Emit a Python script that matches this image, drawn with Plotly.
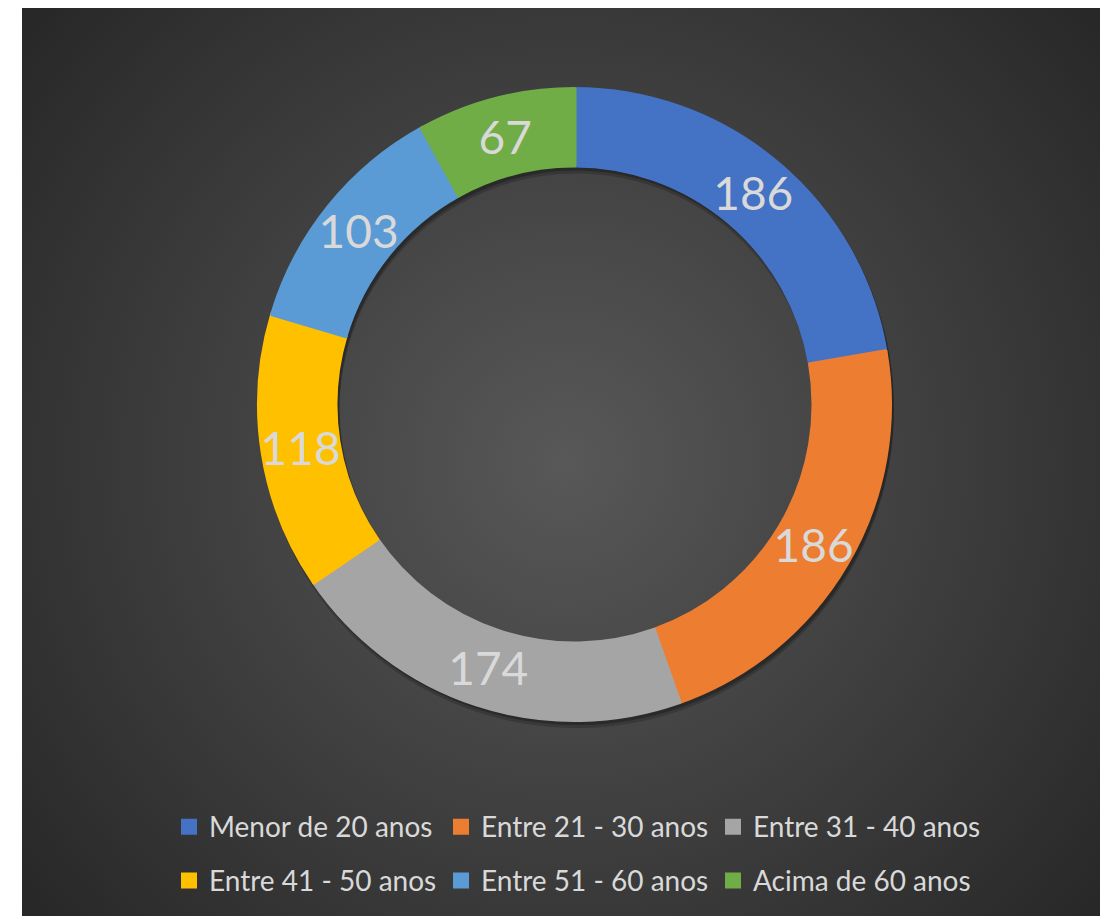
import base64
import plotly.graph_objects as go

# ---- data ----
categories = ["Menor de 20 anos", "Entre 21 - 30 anos", "Entre 31 - 40 anos",
              "Entre 41 - 50 anos", "Entre 51 - 60 anos", "Acima de 60 anos"]
values = [186, 186, 174, 118, 103, 67]
colors = ["#4472C4", "#ED7D31", "#A5A5A5", "#FFC000", "#5B9BD5", "#70AD47"]

# ---- layout constants (pixels, figure coordinates) ----
W, H = 1108, 908
ML, MR = 114, 94
GW = W - ML - MR
CX, CY, R = 566.5, 396.5, 317.5   # pie centre / outer radius (from top-left)
R_IN = 237.0                      # inner radius of the band
HOLE = R_IN / R
LW = 4                            # slice outline (same colour as fill) -> bigger legend swatches
R_DRAW = R - LW / 2
HOLE_DRAW = (R_IN + LW / 2) / R_DRAW
R_MID = (R + R_IN) / 2            # radius where the value labels sit
R_TXT = 337.0                     # helper ring used only to place the labels
HOLE_TXT = (2 * R_MID - R_TXT) / R_TXT

LEG_FONT = 28
LEG_ROW = 39


def pie_domain(dx=0.0, dy=0.0, r=R):
    x0 = (CX + dx - r - ML) / GW
    x1 = (CX + dx + r - ML) / GW
    yb = H - (CY + dy)
    return dict(x=[x0, x1], y=[(yb - r) / H, (yb + r) / H])


# radial gradient background as an SVG image
BG_X0 = 14
BG_W, BG_H = W - BG_X0, H
GCX, GCY = (1100 - BG_X0) / 2, H / 2
svg = f'''<svg xmlns="http://www.w3.org/2000/svg" width="{BG_W}" height="{BG_H}" viewBox="0 0 {BG_W} {BG_H}" preserveAspectRatio="none">
<defs><radialGradient id="g" gradientUnits="userSpaceOnUse" cx="{GCX}" cy="{GCY}" r="720">
<stop offset="0" stop-color="#585858"/><stop offset="1" stop-color="#262626"/></radialGradient></defs>
<rect x="0" y="0" width="{BG_W}" height="{BG_H}" fill="url(#g)"/></svg>'''
bg_src = "data:image/svg+xml;base64," + base64.b64encode(svg.encode()).decode()

legend_labels = [f"<span style='font-size:{LEG_FONT}px;baseline-shift:5px'>{c}</span>"
                 for c in categories]

fig = go.Figure()

# soft drop shadow under the ring
for off, alpha in [(6, 0.18), (3, 0.25)]:
    fig.add_trace(go.Pie(
        labels=categories, values=values, hole=HOLE, sort=False,
        direction="clockwise", rotation=0,
        marker=dict(colors=[f"rgba(0,0,0,{alpha})"] * len(values)),
        textinfo="none", hoverinfo="skip", showlegend=False,
        domain=pie_domain(2, off),
    ))

# the doughnut
fig.add_trace(go.Pie(
    labels=legend_labels, values=values, hole=HOLE_DRAW, sort=False,
    direction="clockwise", rotation=0,
    marker=dict(colors=colors, line=dict(width=LW, color=colors)),
    textinfo="none", hoverinfo="skip",
    domain=pie_domain(r=R_DRAW),
))

# transparent ring carrying the value labels (centred on the middle of the doughnut band)
fig.add_trace(go.Pie(
    labels=categories, values=values, hole=HOLE_TXT, sort=False,
    direction="clockwise", rotation=0,
    marker=dict(colors=["rgba(0,0,0,0)"] * len(values), line=dict(width=0)),
    textinfo="value", textposition="inside", insidetextorientation="horizontal",
    textfont=dict(family="Lato", size=46, color="#d9d9d9"),
    hoverinfo="skip", showlegend=False,
    domain=pie_domain(r=R_TXT),
))

fig.update_layout(
    width=W, height=H,
    margin=dict(l=ML, r=MR, t=0, b=0),
    paper_bgcolor="white",
    uniformtext=dict(minsize=46, mode="show"),
    images=[dict(source=bg_src, xref="paper", yref="paper",
                 x=(BG_X0 - ML) / GW, y=1, sizex=BG_W / GW, sizey=BG_H / H,
                 xanchor="left", yanchor="top", sizing="stretch", layer="below")],
    legend=dict(orientation="h", x=0.5 + 5 / GW, xanchor="center",
                y=(H - 787) / H, yanchor="top",
                entrywidth=227, traceorder="normal",
                font=dict(family="Lato", size=LEG_ROW, color="#d9d9d9"),
                bgcolor="rgba(0,0,0,0)"),
)

fig.write_html("out.html",
               post_script="document.documentElement.style.overflow='hidden';")
